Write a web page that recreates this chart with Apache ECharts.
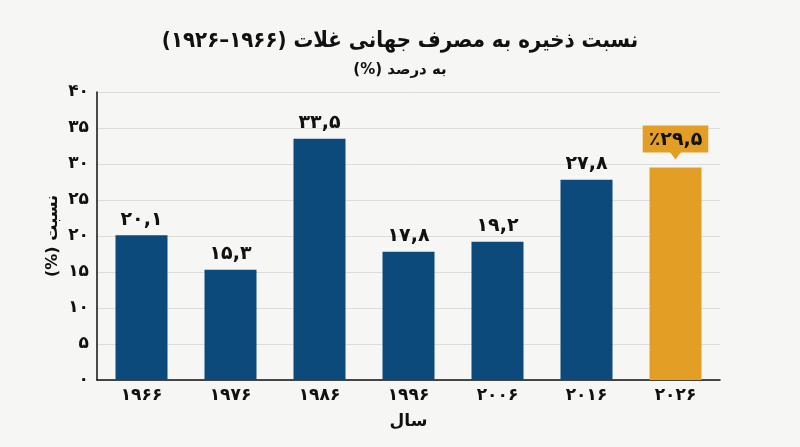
<!DOCTYPE html>
<html>
<head>
<meta charset="utf-8">
<script src="https://cdn.jsdelivr.net/npm/echarts@6/dist/echarts.min.js"></script>
<style>
  html, body { margin: 0; padding: 0; background: #f6f6f4; }
  #chart { width: 800px; height: 447px; direction: rtl; }
</style>
</head>
<body>
<div id="chart" dir="rtl"></div>
<script>
// داده‌ها
const years = ['۱۹۶۶', '۱۹۷۶', '۱۹۸۶', '۱۹۹۶', '۲۰۰۶', '۲۰۱۶', '۲۰۲۶'];
const ratios = [20.1, 15.3, 33.5, 17.8, 19.2, 27.8, 29.5];
const yTicks = ['۰', '۵', '۱۰', '۱۵', '۲۰', '۲۵', '۳۰', '۳۵', '۴۰'];

const faFont = '"DejaVu Sans", "Noto Sans", sans-serif';
const faCond = '"DejaVu Sans Condensed", "DejaVu Sans", sans-serif';

function toFa(s) {
    return String(s).replace(/\d/g, d => '۰۱۲۳۴۵۶۷۸۹'[d]).replace('.', ',');
}

function PaintChart() {
    const chart = echarts.init(document.getElementById('chart'));
    const last = ratios.length - 1;
    const barData = ratios.map((v, i) => {
        if (i !== last) return v;
        return {
            value: v,
            itemStyle: { color: '#e39e26' },
            label: {
                formatter: p => '٪' + toFa(p.value),
                backgroundColor: '#e39e26',
                padding: [5, 6, 3, 6],
                distance: 15
            }
        };
    });
    const option = {
        backgroundColor: '#f6f6f4',
        title: {
            text: 'نسبت ذخیره به مصرف جهانی غلات (۱۹۶۶–۱۹۲۶)',
            subtext: 'به درصد (%)',
            left: 'center',
            top: 25,
            itemGap: 11,
            textStyle: {
                fontFamily: faCond,
                fontSize: 22,
                fontWeight: 'bold',
                color: '#111'
            },
            subtextStyle: {
                fontFamily: faFont,
                fontSize: 15,
                fontWeight: 'bold',
                color: '#111'
            }
        },
        grid: {
            top: 92,
            left: 97,
            right: 80,
            bottom: 67
        },
        xAxis: {
            type: 'category',
            data: years,
            name: 'سال',
            nameLocation: 'middle',
            nameGap: 33,
            nameMoveOverlap: false,
            nameTextStyle: {
                fontFamily: faFont,
                fontSize: 17,
                fontWeight: 'bold',
                color: '#111'
            },
            axisLabel: {
                fontFamily: faFont,
                fontSize: 17,
                fontWeight: 'bold',
                color: '#111',
                margin: 7
            },
            axisLine: { lineStyle: { color: '#111', width: 1.5 } },
            axisTick: { show: false }
        },
        yAxis: {
            type: 'value',
            min: 0,
            max: 40,
            interval: 5,
            name: 'نسبت (%)',
            nameLocation: 'middle',
            nameRotate: 90,
            nameGap: 36,
            nameMoveOverlap: false,
            nameTextStyle: {
                fontFamily: faFont,
                fontSize: 16,
                fontWeight: 'bold',
                color: '#111'
            },
            axisLabel: {
                fontFamily: faFont,
                fontSize: 17,
                fontWeight: 'bold',
                color: '#111',
                margin: 8,
                formatter: v => yTicks[v / 5]
            },
            axisLine: { show: true, lineStyle: { color: '#111', width: 1.5 } },
            axisTick: { show: false },
            splitLine: { lineStyle: { color: '#dcdcdc' } }
        },
        series: [
            {
                type: 'bar',
                data: barData,
                barWidth: 52,
                itemStyle: { color: '#0c4a7c' },
                label: {
                    show: true,
                    position: 'top',
                    distance: 6,
                    fontFamily: faFont,
                    fontSize: 19,
                    fontWeight: 'bold',
                    color: '#111',
                    formatter: p => toFa(p.value)
                },
                markPoint: {
                    silent: true,
                    symbol: 'triangle',
                    symbolRotate: 180,
                    symbolSize: [12, 8],
                    symbolOffset: [0, -12],
                    itemStyle: { color: '#e39e26' },
                    label: { show: false },
                    data: [{ coord: [last, ratios[last]] }]
                }
            }
        ]
    };
    chart.setOption(option);
}
PaintChart();
</script>
</body>
</html>
